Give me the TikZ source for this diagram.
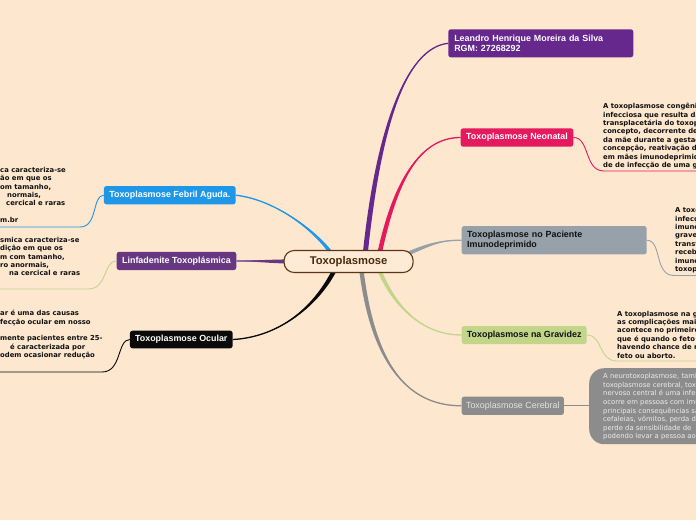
\documentclass[tikz,border=0pt]{standalone}
\usepackage{fontspec}
\setmainfont{Liberation Sans}
\newfontfamily\desc{DejaVu Sans}
\usetikzlibrary{calc}
\definecolor{bg}{HTML}{FDE7CF}
\definecolor{cfill}{HTML}{FEEAD5}
\definecolor{cbrd}{HTML}{5A3614}
\definecolor{ctext}{HTML}{4A2A0C}
\definecolor{cfeb}{HTML}{1E97E8}
\definecolor{clin}{HTML}{673782}
\definecolor{cocu}{HTML}{0A0A0A}
\definecolor{clea}{HTML}{66288C}
\definecolor{cneo}{HTML}{E5195E}
\definecolor{cimu}{HTML}{97A1A9}
\definecolor{cgra}{HTML}{C2D68A}
\definecolor{ccer}{HTML}{8C8C8C}
\definecolor{cerText}{HTML}{ECECEC}
\definecolor{cerLbl}{HTML}{E2E2E2}
\definecolor{txtdark}{HTML}{111111}
\newcommand\taperbranch[6]{%
  \fill[#1] ($(#2)+(#6)$) .. controls ($(#3)+(#6)$) and (#4) .. (#5) .. controls (#4) and ($(#3)-(#6)$) .. ($(#2)-(#6)$) -- cycle;
  \draw[#1, line width=1.3pt] (#2) .. controls (#3) and (#4) .. (#5);
}
\begin{document}
\begin{tikzpicture}[x=1pt,y=-1pt,
 lbl/.style={rounded corners=2.5pt, inner sep=0pt, font=\fontsize{8.9}{10}\selectfont\bfseries},
 dtxt/.style={font=\desc\fontsize{6.85}{7.5}\selectfont\bfseries, inner sep=0pt, anchor=mid west, text=txtdark},
 ctxt/.style={font=\desc\fontsize{6.85}{7.5}\selectfont, inner sep=0pt, anchor=mid west, text=cerText},
 sub/.style={line width=0.9pt}]
\useasboundingbox (0,0) rectangle (696,520);
\fill[bg] (0,0) rectangle (696,520);
\begin{scope}
\clip (0,0) rectangle (696,520);

% start points inside the central box
\coordinate (sLea) at (365,256);
\coordinate (sNeo) at (379,256);
\coordinate (sImu) at (400,257);
\coordinate (sGra) at (378,267);
\coordinate (sCer) at (361,267);
\coordinate (sFeb) at (333,256);
\coordinate (sLin) at (300,261.5);
\coordinate (sOcu) at (336,267);

% label boxes
\node[lbl, fill=clea, text=white, minimum width=185pt, minimum height=28pt, text width=173pt, align=left] (lea) at (540.8,43.3) {Leandro Henrique Moreira da Silva\\RGM: 27268292};
\node[lbl, fill=cneo, text=white, minimum width=112.6pt, minimum height=18.4pt] (neo) at (517,137.5) {Toxoplasmose Neonatal};
\node[lbl, fill=cimu, text=txtdark, minimum width=185pt, minimum height=28.3pt, text width=174pt, align=left] (imu) at (554.2,240.2) {Toxoplasmose no Paciente\\Imunodeprimido};
\node[lbl, fill=cgra, text=txtdark, minimum width=125pt, minimum height=18pt] (gra) at (524.2,335) {Toxoplasmose na Gravidez};
\node[lbl, fill=ccer, text=cerLbl, font=\fontsize{8.9}{10}\selectfont, minimum width=102.3pt, minimum height=18.3pt] (cer) at (512.8,405.8) {Toxoplasmose Cerebral};
\node[lbl, fill=cfeb, text=white, minimum width=131.7pt, minimum height=18.3pt] (feb) at (169.8,195.2) {Toxoplasmose Febril Aguda.};
\node[lbl, fill=clin, text=white, minimum width=119.6pt, minimum height=18.3pt] (lin) at (176.5,260.9) {Linfadenite Toxoplásmica};
\node[lbl, fill=cocu, text=white, minimum width=102.7pt, minimum height=17.6pt] (ocu) at (181.3,339.5) {Toxoplasmose Ocular};

% main branches
\taperbranch{clea}{sLea}{378,130}{405,48}{lea.west}{2.5,0}
\taperbranch{cneo}{sNeo}{395,180}{420,137.5}{neo.west}{2.3,0}
\taperbranch{cimu}{sImu}{430,244}{440,240.2}{imu.west}{0,2.2}
\taperbranch{cgra}{sGra}{395,310}{425,335}{gra.west}{2.2,0}
\taperbranch{ccer}{sCer}{372,360}{405,405.8}{cer.west}{2.2,0}
\taperbranch{cfeb}{sFeb}{320,235}{278,200}{feb.east}{2.3,0}
\taperbranch{clin}{sLin}{270,261.5}{250,260.9}{lin.east}{0,2.2}
\taperbranch{cocu}{sOcu}{318,305}{280,337}{ocu.east}{2.5,0}

% central node
\node[draw=cbrd, line width=1.1pt, fill=cfill, rounded corners=10pt, minimum width=129pt, minimum height=22pt, inner sep=0pt, text=ctext, font=\fontsize{11.2}{13}\selectfont\bfseries] (tox) at (348.6,261.5) {Toxoplasmose};

% cerebral description box
\node[fill=ccer, rounded corners=15pt, minimum width=140pt, minimum height=76pt, inner sep=0pt, anchor=north west] (cbox) at (589,368) {};

% sub connectors
\coordinate (eFeb) at (-2,227);
\coordinate (eLin) at (-2,289);
\coordinate (eOcu) at (-2,372);
\coordinate (eNeo) at (698,171);
\coordinate (eImu) at (698,275.5);
\coordinate (eGra) at (698,361);
\draw[cfeb, sub] (feb.west) .. controls (92,195.2) and (98,227) .. (80,227) -- (eFeb);
\draw[cgra, sub] (lin.west) .. controls (103,260.9) and (108,289) .. (88,289) -- (eLin);
\draw[cocu, sub] (ocu.west) .. controls (117,339.5) and (122,372) .. (102,372) -- (eOcu);
\draw[cneo, sub] (neo.east) .. controls (590,137.5) and (584,171) .. (604,171) -- (eNeo);
\draw[cimu, sub] (imu.east) .. controls (662,240.2) and (654,275.5) .. (674,275.5) -- (eImu);
\draw[cgra, sub] (gra.east) .. controls (603,335) and (598,361) .. (617,361) -- (eGra);
\draw[ccer, sub] (cer.east) -- (cbox.west |- cer.east);

% left texts
\foreach \t/\x/\y [count=\i] in {{ca caracteriza-se}/0/170, {ão em que os}/0/178.3, {om tamanho,}/0/186.7, {normais,}/7/195, {cercical e raras}/6/203.3, {m.br}/0/220}
  \node[dtxt] (fb\i) at (\x,\y) {\t};
\foreach \t/\x/\y [count=\i] in {{smica caracteriza-se}/0/240, {dição em que os}/0/248.3, {m com tamanho,}/0/256.7, {ro anormais,}/0/265, {na cercical e raras}/9/273.3}
  \node[dtxt] (lt\i) at (\x,\y) {\t};
\foreach \t/\x/\y [count=\i] in {{ar é uma das causas}/0/313.3, {fecção ocular em nosso}/0/321.7, {mente pacientes entre 25-}/0/338.3, {é caracterizada por}/10/346.7, {odem ocasionar redução}/0/355}
  \node[dtxt] (oc\i) at (\x,\y) {\t};

% right texts
\foreach \t/\y [count=\i] in {{A toxoplasmose congênita é uma doença}/106, {infecciosa que resulta da transmissão}/114.4, {transplacetária do toxoplasma}/122.8, {concepto, decorrente de infecção}/131.2, {da mãe durante a gestação}/139.6, {concepção, reativação de}/148, {em mães imunodeprimidas}/156.4, {de de infecção de uma gestante}/164.8}
  \node[dtxt] (nn\i) at (603,\y) {\t};
\foreach \t/\y [count=\i] in {{A toxoplasmose}/210, {infecção}/218.4, {imunodeprimidos}/226.8, {graves}/235.2, {transfusão}/243.6, {receberam}/252, {imunossupressão}/260.4, {toxoplasmose}/268.8}
  \node[dtxt] (im\i) at (675,\y) {\t};
\foreach \t/\y [count=\i] in {{A toxoplasmose na gravidez}/313.5, {as complicações mais}/321.9, {acontece no primeiro}/330.3, {que é quando o feto}/338.7, {havendo chance de morte}/347.1, {feto ou aborto.}/355.5}
  \node[dtxt] (gv\i) at (617,\y) {\t};
\foreach \t/\y [count=\i] in {{A neurotoxoplasmose, também}/376, {toxoplasmose cerebral, toxoplasmose}/384.6, {nervoso central é uma infecção}/393.2, {ocorre em pessoas com imunidade}/401.8, {principais consequências são}/410.4, {cefaleias, vômitos, perda de}/419, {perde da sensibilidade de}/427.6, {podendo levar a pessoa ao}/436.2}
  \node[ctxt] (cb\i) at (603,\y) {\t};
\end{scope}
\end{tikzpicture}
\end{document}
